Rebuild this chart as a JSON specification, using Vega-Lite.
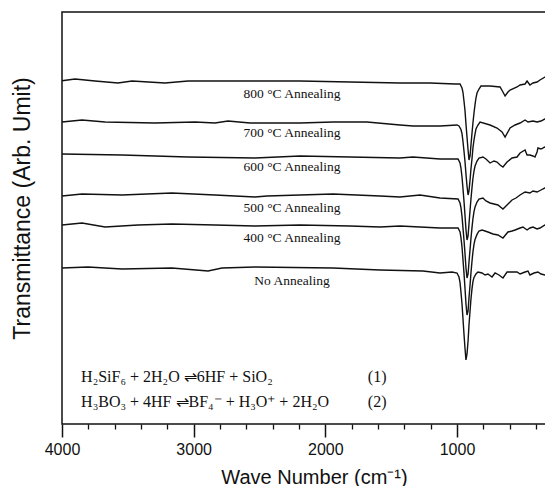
{
"$schema": "https://vega.github.io/schema/vega-lite/v6.json",
"width": 485, "height": 412,
"autosize": {"type": "none"},
"padding": {"left": 62, "top": 12, "right": 0, "bottom": 62},
"background": "white",
"config": {"view": {"stroke": "#111", "strokeWidth": 1.5}},
"datasets": {
"curves": [
{"s":"800","w":4000,"t":343.3},{"s":"800","w":3901,"t":345},{"s":"800","w":3749,"t":343},{"s":"800","w":3575,"t":341},{"s":"800","w":3468,"t":343},{"s":"800","w":3218,"t":341},{"s":"800","w":3043,"t":343},{"s":"800","w":2739,"t":343},{"s":"800","w":2572,"t":343},{"s":"800","w":2192,"t":343},{"s":"800","w":1813,"t":342},{"s":"800","w":1433,"t":341},{"s":"800","w":1205,"t":341},{"s":"800","w":1015,"t":340},{"s":"800","w":977,"t":340},{"s":"800","w":962,"t":336},{"s":"800","w":955,"t":332},{"s":"800","w":947,"t":323},{"s":"800","w":939,"t":313},{"s":"800","w":932,"t":300},{"s":"800","w":924,"t":287},{"s":"800","w":916,"t":274},{"s":"800","w":909,"t":264},{"s":"800","w":901,"t":268},{"s":"800","w":894,"t":279},{"s":"800","w":886,"t":291},{"s":"800","w":879,"t":301},{"s":"800","w":871,"t":311},{"s":"800","w":863,"t":319.5},{"s":"800","w":856,"t":326},{"s":"800","w":848,"t":331},{"s":"800","w":833,"t":335},{"s":"800","w":818,"t":338},{"s":"800","w":749,"t":338},{"s":"800","w":673,"t":337},{"s":"800","w":651,"t":332},{"s":"800","w":635,"t":328},{"s":"800","w":613,"t":332},{"s":"800","w":597,"t":334},{"s":"800","w":544,"t":337},{"s":"800","w":521,"t":339},{"s":"800","w":483,"t":340},{"s":"800","w":468,"t":343},{"s":"800","w":446,"t":339},{"s":"800","w":423,"t":341},{"s":"800","w":392,"t":342},{"s":"800","w":370,"t":344},{"s":"800","w":332,"t":347},{"s":"800","w":316,"t":348},
{"s":"700","w":4000,"t":302},{"s":"700","w":3848,"t":304},{"s":"700","w":3673,"t":302},{"s":"700","w":3294,"t":301},{"s":"700","w":2990,"t":302},{"s":"700","w":2838,"t":301},{"s":"700","w":2739,"t":303},{"s":"700","w":2572,"t":301},{"s":"700","w":2192,"t":301},{"s":"700","w":1942,"t":302},{"s":"700","w":1684,"t":302},{"s":"700","w":1433,"t":299},{"s":"700","w":1334,"t":298},{"s":"700","w":1129,"t":298},{"s":"700","w":1000,"t":299},{"s":"700","w":985,"t":298},{"s":"700","w":970,"t":294.5},{"s":"700","w":962,"t":290.4},{"s":"700","w":955,"t":283},{"s":"700","w":947,"t":273},{"s":"700","w":939,"t":262},{"s":"700","w":932,"t":250},{"s":"700","w":924,"t":238},{"s":"700","w":916,"t":229},{"s":"700","w":909,"t":233},{"s":"700","w":901,"t":244},{"s":"700","w":894,"t":255},{"s":"700","w":886,"t":265.5},{"s":"700","w":879,"t":276},{"s":"700","w":871,"t":284},{"s":"700","w":863,"t":290},{"s":"700","w":856,"t":295},{"s":"700","w":841,"t":299},{"s":"700","w":825,"t":302},{"s":"700","w":749,"t":299},{"s":"700","w":696,"t":296},{"s":"700","w":658,"t":292},{"s":"700","w":635,"t":287},{"s":"700","w":597,"t":296},{"s":"700","w":559,"t":299},{"s":"700","w":521,"t":301},{"s":"700","w":483,"t":304},{"s":"700","w":461,"t":302},{"s":"700","w":423,"t":303},{"s":"700","w":392,"t":302},{"s":"700","w":362,"t":303},{"s":"700","w":332,"t":305},{"s":"700","w":316,"t":306},
{"s":"600","w":4000,"t":270},{"s":"600","w":3544,"t":269},{"s":"600","w":3043,"t":267},{"s":"600","w":2534,"t":266},{"s":"600","w":2192,"t":268},{"s":"600","w":1813,"t":267},{"s":"600","w":1433,"t":266},{"s":"600","w":1334,"t":267},{"s":"600","w":1129,"t":265},{"s":"600","w":992,"t":265},{"s":"600","w":977,"t":261},{"s":"600","w":970,"t":256},{"s":"600","w":962,"t":247},{"s":"600","w":955,"t":236},{"s":"600","w":947,"t":223},{"s":"600","w":939,"t":208},{"s":"600","w":932,"t":194.5},{"s":"600","w":924,"t":184},{"s":"600","w":916,"t":188},{"s":"600","w":909,"t":200},{"s":"600","w":901,"t":213.5},{"s":"600","w":894,"t":225},{"s":"600","w":886,"t":236.5},{"s":"600","w":879,"t":245.5},{"s":"600","w":871,"t":253},{"s":"600","w":863,"t":258},{"s":"600","w":848,"t":263},{"s":"600","w":833,"t":266},{"s":"600","w":803,"t":267},{"s":"600","w":780,"t":265},{"s":"600","w":749,"t":261},{"s":"600","w":719,"t":263},{"s":"600","w":696,"t":262},{"s":"600","w":673,"t":259},{"s":"600","w":651,"t":257},{"s":"600","w":620,"t":262},{"s":"600","w":582,"t":266},{"s":"600","w":544,"t":267},{"s":"600","w":521,"t":271},{"s":"600","w":483,"t":274},{"s":"600","w":468,"t":269},{"s":"600","w":446,"t":269},{"s":"600","w":423,"t":268},{"s":"600","w":408,"t":267},{"s":"600","w":392,"t":272},{"s":"600","w":385,"t":276},{"s":"600","w":362,"t":275},{"s":"600","w":332,"t":277},{"s":"600","w":316,"t":278},
{"s":"500","w":4000,"t":228},{"s":"500","w":3848,"t":230},{"s":"500","w":3544,"t":229},{"s":"500","w":3165,"t":231},{"s":"500","w":2838,"t":229},{"s":"500","w":2534,"t":227},{"s":"500","w":2443,"t":228},{"s":"500","w":1942,"t":230},{"s":"500","w":1585,"t":228},{"s":"500","w":1433,"t":227},{"s":"500","w":1281,"t":229},{"s":"500","w":1129,"t":226},{"s":"500","w":992,"t":225},{"s":"500","w":977,"t":221},{"s":"500","w":970,"t":216.3},{"s":"500","w":962,"t":207.6},{"s":"500","w":955,"t":196.6},{"s":"500","w":947,"t":184},{"s":"500","w":939,"t":170},{"s":"500","w":932,"t":156.3},{"s":"500","w":924,"t":146},{"s":"500","w":916,"t":150},{"s":"500","w":909,"t":162},{"s":"500","w":901,"t":174.4},{"s":"500","w":894,"t":185.5},{"s":"500","w":886,"t":196.6},{"s":"500","w":879,"t":205.2},{"s":"500","w":871,"t":212.4},{"s":"500","w":863,"t":217},{"s":"500","w":848,"t":222},{"s":"500","w":833,"t":225},{"s":"500","w":803,"t":226},{"s":"500","w":780,"t":223},{"s":"500","w":749,"t":221},{"s":"500","w":719,"t":220},{"s":"500","w":689,"t":219},{"s":"500","w":651,"t":215},{"s":"500","w":620,"t":219},{"s":"500","w":582,"t":224},{"s":"500","w":552,"t":226},{"s":"500","w":521,"t":229},{"s":"500","w":483,"t":232},{"s":"500","w":446,"t":231},{"s":"500","w":423,"t":233},{"s":"500","w":392,"t":232},{"s":"500","w":362,"t":234},{"s":"500","w":332,"t":236},{"s":"500","w":316,"t":237},
{"s":"400","w":4000,"t":199},{"s":"400","w":3848,"t":201},{"s":"400","w":3673,"t":197},{"s":"400","w":3423,"t":199},{"s":"400","w":3165,"t":200},{"s":"400","w":2838,"t":199},{"s":"400","w":2534,"t":198},{"s":"400","w":2192,"t":199},{"s":"400","w":1813,"t":198},{"s":"400","w":1585,"t":197},{"s":"400","w":1433,"t":198},{"s":"400","w":1129,"t":196},{"s":"400","w":992,"t":196},{"s":"400","w":977,"t":192},{"s":"400","w":970,"t":186.4},{"s":"400","w":962,"t":177},{"s":"400","w":955,"t":165},{"s":"400","w":947,"t":151},{"s":"400","w":939,"t":135},{"s":"400","w":932,"t":120.3},{"s":"400","w":924,"t":109},{"s":"400","w":916,"t":113},{"s":"400","w":909,"t":126},{"s":"400","w":901,"t":139},{"s":"400","w":894,"t":151},{"s":"400","w":886,"t":163},{"s":"400","w":879,"t":172},{"s":"400","w":871,"t":179.6},{"s":"400","w":863,"t":184.6},{"s":"400","w":848,"t":189.6},{"s":"400","w":833,"t":193},{"s":"400","w":810,"t":194},{"s":"400","w":787,"t":193},{"s":"400","w":765,"t":192},{"s":"400","w":727,"t":190},{"s":"400","w":689,"t":189},{"s":"400","w":651,"t":186},{"s":"400","w":613,"t":192},{"s":"400","w":582,"t":193},{"s":"400","w":559,"t":194},{"s":"400","w":521,"t":196},{"s":"400","w":499,"t":197},{"s":"400","w":468,"t":194},{"s":"400","w":446,"t":196},{"s":"400","w":423,"t":197},{"s":"400","w":392,"t":195},{"s":"400","w":370,"t":196},{"s":"400","w":332,"t":199},{"s":"400","w":316,"t":199},
{"s":"No","w":4000,"t":156},{"s":"No","w":3803,"t":157},{"s":"No","w":3544,"t":155},{"s":"No","w":3165,"t":156},{"s":"No","w":2891,"t":153},{"s":"No","w":2785,"t":156},{"s":"No","w":2534,"t":157},{"s":"No","w":1942,"t":156},{"s":"No","w":1585,"t":154},{"s":"No","w":1258,"t":153},{"s":"No","w":1129,"t":151},{"s":"No","w":1038,"t":152},{"s":"No","w":1000,"t":151},{"s":"No","w":985,"t":147},{"s":"No","w":977,"t":141.4},{"s":"No","w":970,"t":132},{"s":"No","w":962,"t":120},{"s":"No","w":955,"t":106},{"s":"No","w":947,"t":90},{"s":"No","w":939,"t":75.3},{"s":"No","w":932,"t":64},{"s":"No","w":924,"t":70},{"s":"No","w":916,"t":83},{"s":"No","w":909,"t":99},{"s":"No","w":901,"t":113},{"s":"No","w":894,"t":125},{"s":"No","w":886,"t":135.3},{"s":"No","w":879,"t":142.3},{"s":"No","w":871,"t":146.6},{"s":"No","w":856,"t":150},{"s":"No","w":841,"t":152},{"s":"No","w":810,"t":151},{"s":"No","w":787,"t":149},{"s":"No","w":765,"t":150},{"s":"No","w":734,"t":147},{"s":"No","w":711,"t":151},{"s":"No","w":681,"t":149},{"s":"No","w":651,"t":146},{"s":"No","w":620,"t":152},{"s":"No","w":582,"t":152},{"s":"No","w":544,"t":152},{"s":"No","w":521,"t":150},{"s":"No","w":483,"t":152},{"s":"No","w":461,"t":153},{"s":"No","w":446,"t":149},{"s":"No","w":415,"t":151},{"s":"No","w":385,"t":152},{"s":"No","w":362,"t":150},{"s":"No","w":332,"t":149},{"s":"No","w":316,"t":150}
],
"labels": [
{"label":"800 °C Annealing","w":2253,"t":326},
{"label":"700 °C Annealing","w":2253,"t":287},
{"label":"600 °C Annealing","w":2253,"t":253},
{"label":"500 °C Annealing","w":2253,"t":212},
{"label":"400 °C Annealing","w":2253,"t":182},
{"label":"No Annealing","w":2253,"t":139}
],
"eqs": [
{"text":"H₂SiF₆ + 2H₂O ⇌6HF + SiO₂","w":3855,"t":42},
{"text":"(1)","w":1677,"t":42},
{"text":"H₃BO₃ + 4HF ⇌BF₄⁻ + H₃O⁺ + 2H₂O","w":3855,"t":17},
{"text":"(2)","w":1677,"t":17}
]
},
"layer": [
{
"data": {"name": "curves"},
"mark": {"type": "line", "color": "#111", "strokeWidth": 1.4},
"encoding": {
"x": {"field": "w", "type": "quantitative", "scale": {"domain": [316.5, 4000], "reverse": true, "nice": false, "zero": false},
"axis": {"orient": "bottom", "values": [3800,3600,3400,3200,2800,2600,2400,2200,1800,1600,1400,1200,800,600,400], "labels": false, "title": null, "domain": false, "grid": false, "tickSize": 5, "tickColor": "#111", "tickWidth": 1.3}},
"y": {"field": "t", "type": "quantitative", "scale": {"domain": [0, 412], "nice": false, "zero": false},
"axis": {"title": "Transmittance (Arb. Umit)", "labels": false, "ticks": false, "domain": false, "grid": false, "titleFont": "Liberation Sans", "titleFontSize": 23, "titleFontWeight": "normal", "titleColor": "#111", "titleX": -40, "titleY": 196, "titleBaseline": "middle", "titleAlign": "center", "titleAngle": 270}},
"detail": {"field": "s", "type": "nominal"}
}
},
{
"data": {"name": "labels"},
"mark": {"type": "text", "font": "Liberation Serif", "fontSize": 13.5, "color": "#111", "align": "center", "baseline": "alphabetic"},
"encoding": {
"x": {"field": "w", "type": "quantitative", "scale": {"domain": [316.5, 4000], "reverse": true, "nice": false, "zero": false},
"axis": {"orient": "bottom", "values": [4000, 3000, 2000, 1000], "title": "Wave Number (cm⁻¹)", "domain": false, "grid": false, "tickSize": 13, "tickColor": "#111", "tickWidth": 1.5, "labelFont": "Liberation Sans", "labelFontSize": 16, "labelColor": "#111", "labelPadding": 4, "labelFlush": false, "labelOverlap": false, "format": "d", "titleFont": "Liberation Sans", "titleFontSize": 20, "titleFontWeight": "normal", "titleColor": "#111", "titleX": 252, "titleY": 53, "titleBaseline": "middle", "titleAlign": "center"}},
"y": {"field": "t", "type": "quantitative", "scale": {"domain": [0, 412], "nice": false, "zero": false}, "axis": {"title": "Transmittance (Arb. Umit)", "labels": false, "ticks": false, "domain": false, "grid": false}},
"text": {"field": "label"}
}
},
{
"data": {"name": "eqs"},
"mark": {"type": "text", "font": "Liberation Serif", "fontSize": 16, "color": "#111", "align": "left", "baseline": "alphabetic"},
"encoding": {
"x": {"field": "w", "type": "quantitative", "scale": {"domain": [316.5, 4000], "reverse": true, "nice": false, "zero": false}, "axis": null},
"y": {"field": "t", "type": "quantitative", "scale": {"domain": [0, 412], "nice": false, "zero": false}, "axis": {"title": "Transmittance (Arb. Umit)", "labels": false, "ticks": false, "domain": false, "grid": false}},
"text": {"field": "text"}
}
}
],
"resolve": {"scale": {"x": "independent"}, "axis": {"x": "independent"}}
}
